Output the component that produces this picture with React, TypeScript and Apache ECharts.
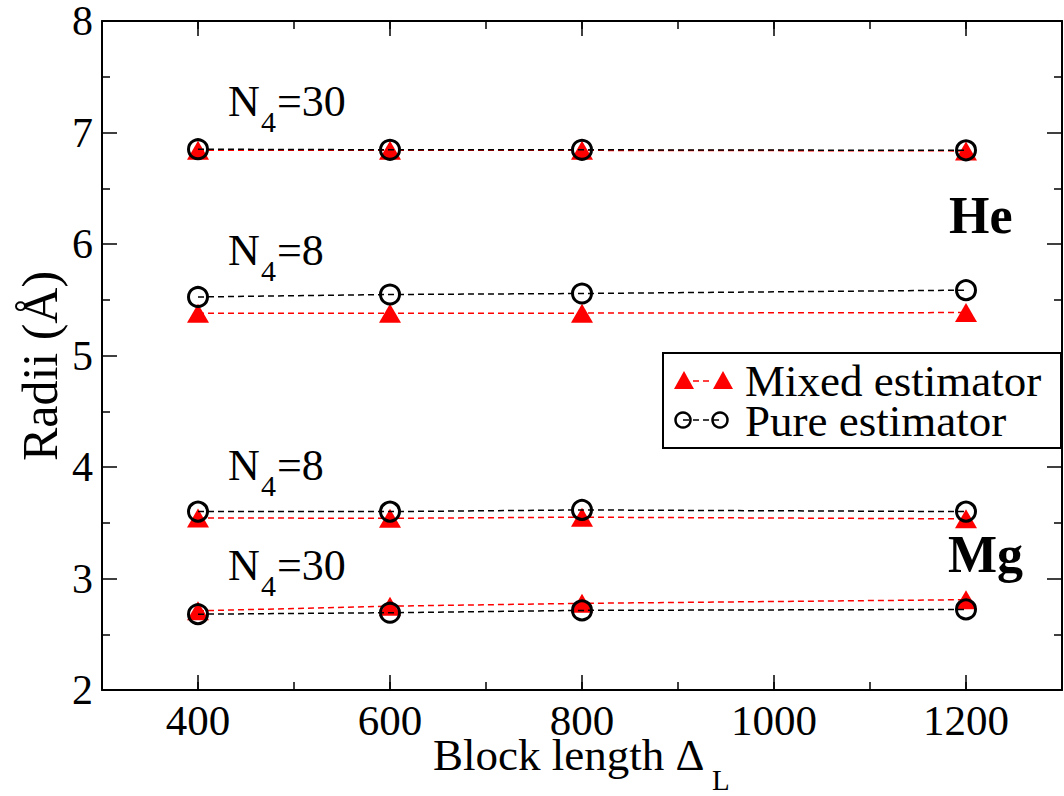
import React, { useEffect, useRef } from "react";
import * as echarts from "echarts";

const blockLengths = [400, 600, 800, 1200];
const heN30Mixed = [6.84, 6.84, 6.84, 6.835];
const heN30Pure = [6.85, 6.845, 6.845, 6.84];
const heN8Mixed = [5.38, 5.38, 5.38, 5.385];
const heN8Pure = [5.525, 5.547, 5.556, 5.586];
const mgN8Mixed = [3.543, 3.54, 3.55, 3.535];
const mgN8Pure = [3.6, 3.6, 3.615, 3.6];
const mgN30Mixed = [2.71, 2.752, 2.777, 2.81];
const mgN30Pure = [2.68, 2.693, 2.714, 2.723];

const xMajorTicks = [400, 600, 800, 1000, 1200];
const yTicks = [2, 3, 4, 5, 6, 7, 8];

const legendNames = ["Mixed estimator", "Pure estimator"];
const annotationTexts = [
  { main: "N", sub: "4", rest: "=30" },
  { main: "N", sub: "4", rest: "=8" },
  { main: "N", sub: "4", rest: "=8" },
  { main: "N", sub: "4", rest: "=30" },
];
const annotationY = [101.5, 250, 465.5, 565];
const elementLabels = ["He", "Mg"];

const FONT = "Liberation Serif";
const RED = "#ff0000";

const txt = (
  text: string,
  x: number,
  y: number,
  size: number,
  extra: any = {},
  weight: string = "normal"
) => ({
  type: "text",
  x,
  y,
  ...extra,
  style: {
    text,
    fontFamily: FONT,
    fontSize: size,
    fontWeight: weight,
    fill: "#000",
    align: extra.align || "left",
    verticalAlign: "middle",
  },
});

export default function App() {
  const ref = useRef<HTMLDivElement>(null);

  useEffect(() => {
    if (!ref.current) return;
    const chart = echarts.init(ref.current, null, { renderer: "svg" });

    const mk = (vals: number[], kind: "mixed" | "pure", name: string) => ({
      type: "line",
      name,
      xAxisIndex: 0,
      yAxisIndex: 0,
      data: blockLengths.map((x, i) => [x, vals[i]]),
      symbol: kind === "mixed" ? "triangle" : "circle",
      symbolSize: kind === "mixed" ? [22, 19] : 19,
      lineStyle: {
        color: kind === "mixed" ? RED : "#000",
        width: 1.5,
        type: [6, 4],
      },
      itemStyle:
        kind === "mixed"
          ? { color: RED, borderWidth: 0 }
          : { color: "rgba(0,0,0,0)", borderColor: "#000", borderWidth: 3 },
      z: kind === "mixed" ? 2 : 3,
      emphasis: { disabled: true },
    });

    const series = [
      mk(heN30Mixed, "mixed", legendNames[0]),
      mk(heN8Mixed, "mixed", legendNames[0]),
      mk(mgN8Mixed, "mixed", legendNames[0]),
      mk(mgN30Mixed, "mixed", legendNames[0]),
      mk(heN30Pure, "pure", legendNames[1]),
      mk(heN8Pure, "pure", legendNames[1]),
      mk(mgN8Pure, "pure", legendNames[1]),
      mk(mgN30Pure, "pure", legendNames[1]),
    ];

    const xBase = {
      type: "value",
      min: 300,
      max: 1300,
      interval: 100,
      splitLine: { show: false },
    };

    const annotationGraphics: any[] = [];
    annotationTexts.forEach((a, i) => {
      const y = annotationY[i];
      annotationGraphics.push(
        txt(a.main, 228, y, 44),
        txt(a.sub, 261, y + 20, 30),
        txt(a.rest, 277, y, 44)
      );
    });

    const option: any = {
      animation: false,
      backgroundColor: "#fff",
      textStyle: { fontFamily: FONT },
      grid: { left: 102, right: 2, top: 18, bottom: 106, containLabel: false },
      xAxis: [
        {
          ...xBase,
          position: "bottom",
          axisLine: { show: true, onZero: false, lineStyle: { color: "#000", width: 2 } },
          axisTick: { show: true, inside: true, length: 8, lineStyle: { color: "#000", width: 1.5 } },
          axisLabel: {
            customValues: xMajorTicks,
            formatter: (v: number) => String(v),
            color: "#000",
            fontSize: 43,
            fontFamily: FONT,
            margin: 9,
          },
        },
        {
          ...xBase,
          position: "bottom",
          axisLine: { show: false },
          axisTick: { show: true, inside: true, length: 15, customValues: xMajorTicks, lineStyle: { color: "#000", width: 1.5 } },
          axisLabel: { show: false },
        },
        {
          ...xBase,
          position: "top",
          axisLine: { show: true, onZero: false, lineStyle: { color: "#000", width: 2 } },
          axisTick: { show: true, inside: true, length: 8, lineStyle: { color: "#000", width: 1.5 } },
          axisLabel: { show: false },
        },
        {
          ...xBase,
          position: "top",
          axisLine: { show: false },
          axisTick: { show: true, inside: true, length: 15, customValues: xMajorTicks, lineStyle: { color: "#000", width: 1.5 } },
          axisLabel: { show: false },
        },
      ],
      yAxis: [
        {
          type: "value",
          min: yTicks[0],
          max: yTicks[yTicks.length - 1],
          interval: 1,
          position: "left",
          splitLine: { show: false },
          axisLine: { show: true, onZero: false, lineStyle: { color: "#000", width: 2 } },
          axisTick: { show: true, inside: true, length: 15, lineStyle: { color: "#000", width: 1.5 } },
          minorTick: { show: true, splitNumber: 2, length: 8, lineStyle: { color: "#000", width: 1.5 } },
          axisLabel: { color: "#000", fontSize: 42, fontFamily: FONT, margin: 9 },
        },
        {
          type: "value",
          min: yTicks[0],
          max: yTicks[yTicks.length - 1],
          interval: 1,
          position: "right",
          splitLine: { show: false },
          axisLine: { show: true, onZero: false, lineStyle: { color: "#000", width: 2 } },
          axisTick: { show: true, inside: true, length: 15, lineStyle: { color: "#000", width: 1.5 } },
          minorTick: { show: true, splitNumber: 2, length: 8, lineStyle: { color: "#000", width: 1.5 } },
          axisLabel: { show: false },
        },
      ],
      series,
      graphic: [
        txt("Radii (Å)", 40, 366, 50, { rotation: Math.PI / 2, align: "center" }),
        txt("Block length Δ", 433, 755, 45),
        txt("L", 712, 780, 29),
        ...annotationGraphics,
        txt(elementLabels[0], 949, 215, 52, {}, "bold"),
        txt(elementLabels[1], 948, 554, 52, {}, "bold"),
        // Legend
        {
          type: "rect",
          shape: { x: 663, y: 353, width: 398, height: 95 },
          style: { fill: "#fff", stroke: "#000", lineWidth: 2 },
          z: 10,
        },
        {
          type: "line",
          shape: { x1: 693, y1: 381, x2: 713, y2: 381 },
          style: { stroke: RED, lineWidth: 1.5, lineDash: [6, 4] },
          z: 11,
        },
        {
          type: "polygon",
          shape: { points: [[684, 371], [674, 389], [694, 389]] },
          style: { fill: RED },
          z: 11,
        },
        {
          type: "polygon",
          shape: { points: [[723, 371], [713, 389], [733, 389]] },
          style: { fill: RED },
          z: 11,
        },
        { ...txt(legendNames[0], 745, 381, 45), z: 11 },
        {
          type: "line",
          shape: { x1: 683, y1: 420, x2: 720, y2: 420 },
          style: { stroke: "#000", lineWidth: 1.5, lineDash: [6, 4] },
          z: 11,
        },
        {
          type: "circle",
          shape: { cx: 683, cy: 420, r: 7.5 },
          style: { fill: "none", stroke: "#000", lineWidth: 2.5 },
          z: 12,
        },
        {
          type: "circle",
          shape: { cx: 720, cy: 420, r: 7.5 },
          style: { fill: "none", stroke: "#000", lineWidth: 2.5 },
          z: 12,
        },
        { ...txt(legendNames[1], 745, 421, 45), z: 11 },
      ],
    };

    chart.setOption(option);
    return () => chart.dispose();
  }, []);

  return (
    <div
      ref={ref}
      style={{ position: "fixed", left: 0, top: 0, width: 1064, height: 796, background: "#fff" }}
    />
  );
}
